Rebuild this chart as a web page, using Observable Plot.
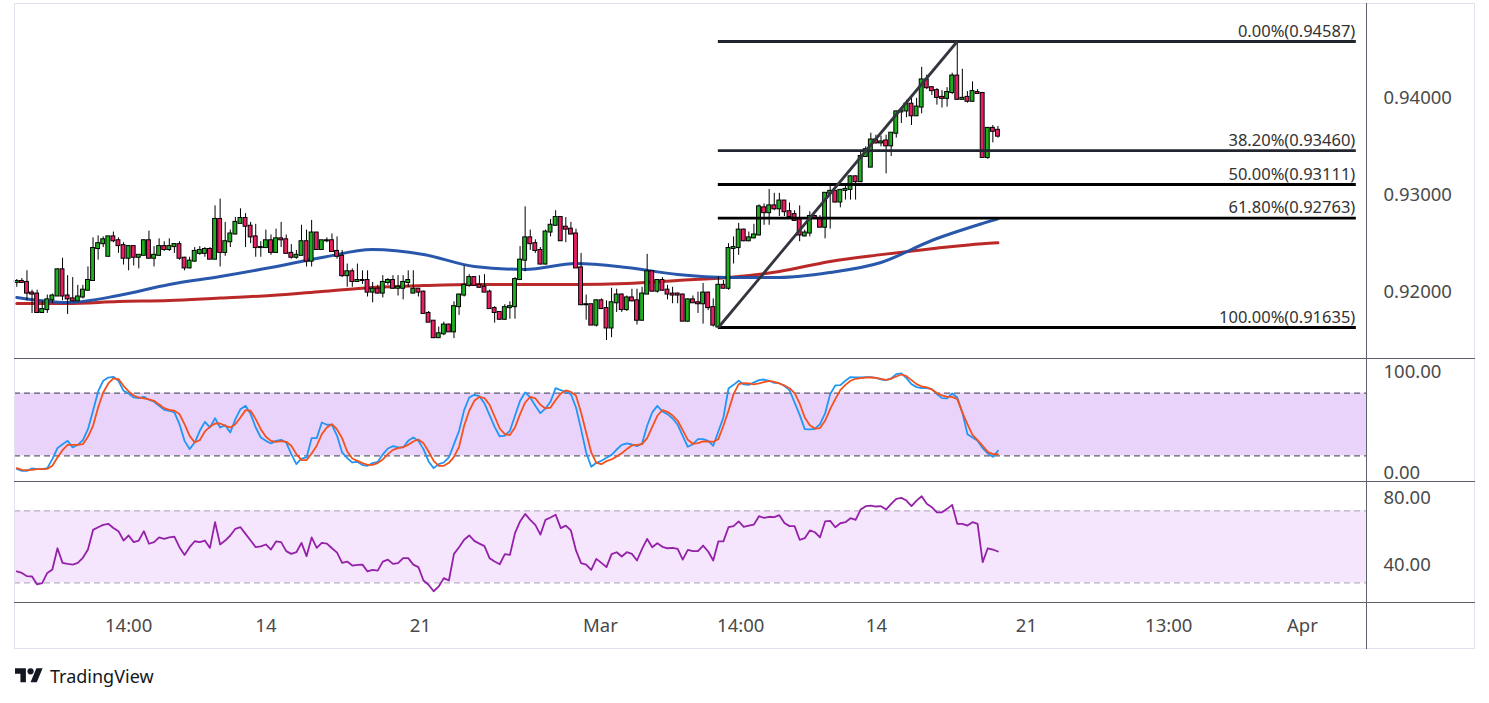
<!DOCTYPE html>
<html><head><meta charset="utf-8">
<script src="https://cdn.jsdelivr.net/npm/d3@7"></script>
<script src="https://cdn.jsdelivr.net/npm/@observablehq/plot@0.6"></script>
<style>
body{margin:0;background:#fff;font-family:"Noto Sans",sans-serif;}
#wrap{position:relative;width:1489px;height:703px;overflow:hidden;background:#fff;}
.pane{position:absolute;left:0;}
.frame{position:absolute;left:14px;top:3px;width:1461px;height:646px;border:1px solid #e0e3eb;box-sizing:border-box;pointer-events:none;}
.hsep{position:absolute;left:14px;width:1461px;height:1px;background:#5d606b;}
.vsep{position:absolute;left:1366px;top:3px;width:1px;height:646px;background:#5d606b;}
#logo{position:absolute;left:15px;top:665px;}
#brand{position:absolute;left:50px;top:664px;font-size:18px;color:#131722;font-family:"Noto Sans",sans-serif;}
</style></head>
<body>
<div id="wrap">
  <div class="pane" id="price" style="top:0"></div>
  <div class="pane" id="stoch" style="top:358px"></div>
  <div class="pane" id="rsi" style="top:481px"></div>
  <div class="pane" id="time" style="top:602px"></div>
  <div class="frame"></div>
  <div class="hsep" style="top:358px"></div>
  <div class="hsep" style="top:481px"></div>
  <div class="hsep" style="top:602px"></div>
  <div class="vsep"></div>
  <svg id="logo" width="28" height="22" viewBox="0 0 36 28"><path d="M14 22H7V11H0V4h14v18zM28 22h-8l7.5-18h8L28 22z" fill="#131722"/><circle cx="20" cy="8" r="4" fill="#131722"/></svg>
  <div id="brand">TradingView</div>
</div>
<script>
// ---- OHLC (4H candles) ----
const open = [
0.9210,0.9211,0.9210,0.9199,0.9198,0.9179,0.9182,0.9192,0.9196,0.9223,
0.9196,0.9193,0.9191,0.9195,0.9202,0.9212,0.9245,0.9250,0.9237,0.9257,
0.9253,0.9248,0.9235,0.9247,0.9236,0.9238,0.9253,0.9235,0.9238,0.9247,
0.9244,0.9247,0.9249,0.9235,0.9225,0.9232,0.9240,0.9240,0.9244,0.9234,
0.9275,0.9241,0.9252,0.9260,0.9271,0.9276,0.9268,0.9257,0.9246,0.9246,
0.9253,0.9241,0.9255,0.9254,0.9240,0.9236,0.9238,0.9252,0.9232,0.9261,
0.9244,0.9253,0.9253,0.9242,0.9237,0.9217,0.9221,0.9211,0.9212,0.9212,
0.9200,0.9203,0.9199,0.9210,0.9212,0.9204,0.9204,0.9210,0.9199,0.9203,
0.9200,0.9178,0.9170,0.9153,0.9157,0.9166,0.9159,0.9185,0.9197,0.9207,
0.9215,0.9207,0.9205,0.9200,0.9183,0.9179,0.9172,0.9184,0.9185,0.9213,
0.9233,0.9256,0.9250,0.9243,0.9229,0.9262,0.9269,0.9277,0.9267,0.9265,
0.9260,0.9225,0.9187,0.9187,0.9166,0.9191,0.9183,0.9163,0.9189,0.9197,
0.9182,0.9194,0.9191,0.9171,0.9198,0.9221,0.9201,0.9212,0.9202,0.9198,
0.9198,0.9197,0.9170,0.9192,0.9189,0.9188,0.9199,0.9184,0.9164,0.9207,
0.9204,0.9245,0.9246,0.9264,0.9253,0.9256,0.9259,0.9287,0.9282,0.9289,
0.9286,0.9294,0.9283,0.9280,0.9276,0.9258,0.9261,0.9278,0.9275,0.9267,
0.9302,0.9304,0.9293,0.9305,0.9306,0.9319,0.9314,0.9340,0.9329,0.9357,
0.9354,0.9356,0.9351,0.9364,0.9386,0.9387,0.9394,0.9382,0.9391,0.9419,
0.9411,0.9408,0.9401,0.9400,0.9406,0.9423,0.9399,0.9401,0.9397,0.9406,
0.9405,0.9339,0.9369,0.9367];
const high = [
0.9213,0.9214,0.9222,0.9202,0.9202,0.9191,0.9197,0.9198,0.9224,0.9235,
0.9217,0.9215,0.9207,0.9207,0.9226,0.9256,0.9258,0.9257,0.9257,0.9262,
0.9256,0.9251,0.9248,0.9247,0.9238,0.9254,0.9263,0.9247,0.9255,0.9252,
0.9255,0.9250,0.9252,0.9236,0.9236,0.9246,0.9247,0.9246,0.9246,0.9289,
0.9296,0.9272,0.9264,0.9277,0.9286,0.9281,0.9272,0.9270,0.9252,0.9264,
0.9259,0.9265,0.9272,0.9259,0.9249,0.9243,0.9269,0.9264,0.9274,0.9261,
0.9253,0.9256,0.9260,0.9257,0.9243,0.9229,0.9224,0.9229,0.9222,0.9222,
0.9210,0.9207,0.9217,0.9214,0.9217,0.9217,0.9217,0.9222,0.9222,0.9203,
0.9201,0.9180,0.9170,0.9164,0.9169,0.9167,0.9190,0.9198,0.9227,0.9218,
0.9215,0.9217,0.9218,0.9202,0.9185,0.9180,0.9187,0.9190,0.9215,0.9247,
0.9288,0.9264,0.9254,0.9246,0.9264,0.9275,0.9284,0.9277,0.9277,0.9272,
0.9265,0.9240,0.9197,0.9187,0.9192,0.9193,0.9191,0.9204,0.9203,0.9198,
0.9196,0.9203,0.9203,0.9205,0.9239,0.9222,0.9213,0.9215,0.9207,0.9205,
0.9199,0.9198,0.9193,0.9196,0.9200,0.9209,0.9200,0.9193,0.9216,0.9212,
0.9250,0.9257,0.9271,0.9265,0.9262,0.9270,0.9290,0.9291,0.9306,0.9302,
0.9302,0.9294,0.9292,0.9284,0.9289,0.9264,0.9283,0.9279,0.9279,0.9302,
0.9310,0.9304,0.9306,0.9310,0.9320,0.9320,0.9345,0.9350,0.9364,0.9362,
0.9361,0.9362,0.9364,0.9387,0.9389,0.9398,0.9403,0.9400,0.9432,0.9424,
0.9412,0.9410,0.9408,0.9411,0.9426,0.94587,0.9430,0.9407,0.9417,0.9409,
0.9406,0.9370,0.9372,0.9371];
const low = [
0.9205,0.9210,0.9191,0.9178,0.9178,0.9178,0.9178,0.9188,0.9196,0.9191,
0.9177,0.9190,0.9191,0.9193,0.9201,0.9211,0.9233,0.9246,0.9237,0.9251,
0.9240,0.9228,0.9222,0.9227,0.9224,0.9238,0.9234,0.9226,0.9237,0.9242,
0.9242,0.9240,0.9233,0.9222,0.9224,0.9231,0.9238,0.9236,0.9234,0.9234,
0.9226,0.9237,0.9246,0.9259,0.9271,0.9246,0.9250,0.9236,0.9236,0.9245,
0.9238,0.9240,0.9246,0.9240,0.9234,0.9234,0.9238,0.9226,0.9226,0.9243,
0.9243,0.9251,0.9241,0.9234,0.9215,0.9205,0.9205,0.9210,0.9208,0.9195,
0.9189,0.9198,0.9194,0.9207,0.9203,0.9196,0.9192,0.9205,0.9199,0.9195,
0.9177,0.9169,0.9152,0.9153,0.9155,0.9159,0.9152,0.9176,0.9195,0.9205,
0.9206,0.9204,0.9200,0.9183,0.9168,0.9171,0.9171,0.9172,0.9172,0.9212,
0.9221,0.9243,0.9240,0.9228,0.9228,0.9257,0.9269,0.9253,0.9251,0.9259,
0.9225,0.9186,0.9171,0.9166,0.9164,0.9182,0.9150,0.9153,0.9179,0.9179,
0.9180,0.9190,0.9166,0.9170,0.9198,0.9200,0.9199,0.9201,0.9192,0.9188,
0.9188,0.9170,0.9169,0.9189,0.9178,0.9167,0.9181,0.9164,0.91635,0.9204,
0.9202,0.9229,0.9238,0.9252,0.9252,0.9255,0.9258,0.9269,0.9269,0.9284,
0.9278,0.9278,0.9275,0.9273,0.9252,0.9257,0.9257,0.9276,0.9267,0.9255,
0.9265,0.9292,0.9287,0.9295,0.9295,0.9295,0.9313,0.9339,0.9329,0.9353,
0.9350,0.9322,0.9340,0.9359,0.9374,0.9380,0.9372,0.9382,0.9384,0.9409,
0.9403,0.9393,0.9390,0.9391,0.9404,0.9398,0.9399,0.9395,0.9396,0.9405,
0.9339,0.9337,0.9354,0.9359];
const close = [
0.9211,0.9210,0.9199,0.9198,0.9179,0.9182,0.9192,0.9196,0.9223,0.9196,
0.9193,0.9191,0.9195,0.9202,0.9212,0.9245,0.9250,0.9254,0.9257,0.9253,
0.9248,0.9235,0.9247,0.9236,0.9238,0.9253,0.9235,0.9238,0.9247,0.9244,
0.9247,0.9249,0.9235,0.9225,0.9232,0.9242,0.9243,0.9244,0.9234,0.9275,
0.9241,0.9252,0.9260,0.9272,0.9276,0.9268,0.9257,0.9246,0.9246,0.9253,
0.9241,0.9255,0.9254,0.9240,0.9236,0.9238,0.9252,0.9232,0.9261,0.9244,
0.9253,0.9253,0.9242,0.9237,0.9217,0.9221,0.9211,0.9212,0.9212,0.9200,
0.9203,0.9199,0.9210,0.9212,0.9204,0.9205,0.9210,0.9212,0.9203,0.9200,
0.9178,0.9169,0.9153,0.9157,0.9166,0.9159,0.9185,0.9197,0.9207,0.9215,
0.9207,0.9205,0.9200,0.9183,0.9179,0.9172,0.9184,0.9185,0.9213,0.9233,
0.9256,0.9250,0.9243,0.9229,0.9262,0.9269,0.9277,0.9253,0.9265,0.9260,
0.9225,0.9187,0.9187,0.9166,0.9191,0.9183,0.9163,0.9189,0.9197,0.9182,
0.9194,0.9191,0.9171,0.9198,0.9221,0.9201,0.9212,0.9202,0.9198,0.9197,
0.9197,0.9170,0.9192,0.9189,0.9188,0.9199,0.9184,0.9166,0.9207,0.9204,
0.9245,0.9246,0.9264,0.9253,0.9256,0.9259,0.9288,0.9282,0.9289,0.9286,
0.9294,0.9283,0.9278,0.9274,0.9259,0.9261,0.9278,0.9277,0.9267,0.9302,
0.9304,0.9293,0.9305,0.9306,0.9319,0.9314,0.9340,0.9347,0.9357,0.9354,
0.9355,0.9351,0.9364,0.9386,0.9387,0.9394,0.9382,0.9391,0.9419,0.9411,
0.9408,0.9401,0.9400,0.9406,0.9423,0.9399,0.9400,0.9397,0.9407,0.9405,
0.9339,0.9369,0.9366,0.9361];

// ---- moving averages (sampled at candle index) ----
const maIdx  = [0,10,20,30,40,50,60,70,80,90,100,110,120,130,140,150,160,170,180,190,193];
const maFast = [0.91945,0.91893,0.91965,0.92079,0.92161,0.92254,0.92357,0.92440,0.92389,0.92265,0.92234,0.92295,0.92254,0.92182,0.92151,0.92151,0.92203,0.92306,0.92533,0.92709,0.92757];
const maSlow = [0.91883,0.91883,0.91903,0.91914,0.91940,0.91965,0.92006,0.92048,0.92068,0.92079,0.92079,0.92079,0.92089,0.92120,0.92151,0.92213,0.92317,0.92387,0.92448,0.92500,0.92509];

// ---- Fibonacci retracement ----
const fibStart = 138, fibEnd = 185, fibRight = 263.5;
const fibRatios = [0, 0.382, 0.5, 0.618, 1];
const fibPrices = [0.94587, 0.93460, 0.93111, 0.92763, 0.91635];
const fibColors = ["#22252e", "#22252e", "#000000", "#000000", "#000000"];

// ---- Stochastic ----
const stochK = [
7.6,5.7,5.7,8.0,7.3,7.3,8.3,16.9,27.4,31.2,
34.4,28.1,30.6,35.1,45.6,63.2,81.7,91.9,95.0,95.7,
91.9,82.3,79.7,75.9,75.3,76.5,73.7,71.8,67.9,64.1,
63.2,61.6,50.4,34.4,26.5,32.8,44.0,52.6,47.2,56.1,
47.2,49.4,42.4,55.2,64.7,67.9,60.0,47.2,37.6,34.4,
31.9,34.4,35.4,32.8,21.7,12.1,17.5,18.5,37.0,37.0,
52.0,49.8,49.8,39.2,23.3,17.9,13.7,14.3,11.2,10.5,
13.1,14.3,21.4,27.1,29.3,28.1,28.1,34.4,37.6,34.4,
26.5,14.7,8.3,12.1,13.7,18.5,31.2,44.0,63.8,75.9,
78.5,77.2,70.2,59.0,47.8,38.6,39.5,44.0,58.4,72.7,
80.7,75.9,67.9,60.9,65.4,72.1,84.8,82.9,81.3,79.1,
66.3,45.6,23.3,9.6,13.4,15.3,18.2,21.0,26.1,30.6,
31.9,30.9,29.3,31.9,48.8,61.6,67.9,62.5,60.0,55.8,
49.8,39.2,28.7,31.2,36.0,36.0,34.4,29.7,43.4,56.8,
84.5,88.0,91.9,88.4,88.0,90.3,92.5,93.1,91.9,89.9,
89.6,86.8,82.9,71.1,59.3,45.6,45.3,45.9,50.4,60.6,
79.1,87.4,87.7,91.9,95.4,95.0,95.0,95.4,95.4,94.7,
93.1,92.5,94.1,98.2,98.9,94.4,88.7,85.8,84.8,84.8,
83.9,79.1,75.3,75.0,79.7,75.9,61.6,40.8,37.6,34.4,
27.4,22.3,19.1,24.9];
const stochD = [
8.3,6.7,6.4,6.7,7.3,7.3,7.6,10.5,18.5,25.5,
30.6,30.6,30.6,31.2,38.3,48.8,66.3,80.7,89.3,94.1,
93.5,87.1,81.7,77.8,75.9,75.0,74.0,72.7,69.2,65.7,
64.1,63.2,60.0,50.4,39.2,32.8,35.1,43.4,47.8,51.0,
51.0,48.8,47.2,50.4,56.8,63.8,63.2,55.2,45.6,38.3,
34.4,33.5,34.1,33.5,29.7,21.7,15.9,15.9,22.3,29.7,
40.8,47.2,50.4,45.3,37.0,24.2,17.5,15.3,13.1,11.5,
11.5,13.1,16.6,21.7,25.8,27.4,28.4,30.6,33.8,35.7,
32.2,24.2,15.3,10.5,10.5,13.4,19.1,28.7,48.8,63.2,
72.7,76.5,75.3,68.9,57.7,46.2,40.8,39.9,47.2,60.0,
71.1,76.5,75.0,68.9,65.4,66.3,73.4,79.7,82.6,81.3,
77.5,61.6,42.4,23.3,13.4,12.1,15.0,16.6,19.4,22.6,
26.5,30.0,30.6,31.2,37.0,47.8,58.4,63.8,62.2,58.7,
53.6,44.6,35.4,31.6,32.2,33.8,33.8,33.5,36.0,48.8,
63.2,79.1,88.7,89.6,89.3,88.4,89.3,90.6,91.9,90.9,
89.3,87.4,84.8,80.1,70.2,56.8,49.4,46.2,46.6,53.6,
64.7,74.3,82.9,88.0,91.9,93.8,94.4,95.0,95.0,94.7,
93.8,92.8,93.8,96.0,97.9,96.3,92.5,88.7,86.4,85.5,
83.6,80.1,77.8,76.5,76.5,74.3,61.6,50.4,40.2,35.1,
29.7,23.9,21.7,21.7];
const stochBand = [20, 80];
const stochTicks = [0, 100];

// ---- RSI ----
const rsi = [
36.3,35.5,33.7,33.5,29.1,29.8,35.5,37.4,49.2,41.1,
40.5,40.1,41.1,43.9,48.5,59.4,60.9,62.2,62.8,60.5,
58.7,53.5,56.3,52.6,53.5,58.7,51.7,52.6,55.3,54.4,
55.3,55.7,49.8,45.5,49.8,53.1,52.6,53.5,49.4,63.7,
51.3,53.5,56.3,60.0,60.9,57.2,53.5,49.8,50.2,51.3,
48.5,53.0,52.6,47.6,46.1,47.0,52.2,44.8,55.2,49.4,
52.2,51.8,49.2,46.8,41.1,41.8,39.6,40.0,40.1,36.3,
37.2,36.8,41.8,42.9,40.5,40.9,43.7,43.7,40.1,38.7,
31.3,28.9,25.3,28.0,32.6,31.3,46.1,49.8,53.9,56.3,
53.3,51.8,50.4,43.7,41.8,40.3,45.9,45.5,57.6,64.1,
68.3,65.0,62.2,56.8,65.0,66.3,67.8,60.4,61.8,59.1,
48.0,40.9,40.1,37.2,43.3,41.1,38.7,45.9,47.0,44.6,
47.0,46.1,42.4,48.9,54.4,49.8,52.0,50.0,49.2,49.4,
48.9,42.9,48.3,47.6,47.6,50.7,47.4,42.4,53.0,53.0,
60.9,61.5,64.1,61.1,61.8,62.4,67.0,66.1,66.7,66.5,
67.6,63.3,61.5,61.5,53.9,54.8,59.1,58.1,55.3,64.1,
64.4,60.9,63.1,63.7,65.9,65.0,70.7,72.6,72.9,72.4,
72.6,70.7,73.9,76.7,77.2,75.7,72.6,75.7,78.1,73.9,
72.0,69.1,69.2,71.1,73.3,62.8,62.8,61.8,63.7,62.8,
41.5,49.2,48.5,47.4];
const rsiBand = [30, 70];
const rsiTicks = [40, 80];

// ---- time axis ----
const timeTickIdx = [22.0, 49.0, 79.4, 114.8, 142.4, 169.1, 198.6, 226.6, 252.9];
const timeTickLabels = ["14:00", "14", "21", "Mar", "14:00", "14", "21", "13:00", "Apr"];
const priceTicks = [0.92, 0.93, 0.94];

// ---- layout ----
const W = 1489, ML = 14, MR = 123;
const xDomain = [-0.45, 265.5];
const idx = d3.range(open.length);
const base = {
  width: W, marginLeft: ML, marginRight: MR, marginBottom: 0,
  x: {domain: xDomain, axis: null},
  color: {type: "identity"},
  style: {background: "transparent", fontFamily: "Noto Sans", color: "#4a4a4a", overflow: "visible"}
};
const axisFont = 18.5;
const axisOpts = {anchor: "right", tickFormat: d => d.toFixed(2), tickSize: 0, tickPadding: 17, fontSize: axisFont, label: null};

const price = Plot.plot({
  ...base, height: 358, marginTop: 3,
  y: {domain: [0.91315, 0.94979], axis: null},
  marks: [
    Plot.line(maIdx, {x: d => d, y: (d, i) => maSlow[i], stroke: "#b71c1c", strokeWidth: 3, curve: "monotone-x", strokeOpacity: 0.95}),
    Plot.line(maIdx, {x: d => d, y: (d, i) => maFast[i], stroke: "#1c4ea6", strokeWidth: 3, curve: "monotone-x", strokeOpacity: 0.95}),
    Plot.ruleX(idx, {x: i => i, y1: i => low[i], y2: i => high[i], stroke: "#000", strokeWidth: 1}),
    Plot.rect(idx, {x1: i => i - 0.38, x2: i => i + 0.38, y1: i => open[i], y2: i => close[i],
      fill: i => close[i] >= open[i] ? "#1fae1f" : "#e91e63", stroke: "#000", strokeWidth: 1,
      insetTop: -0.5, insetBottom: -0.5}),
    Plot.ruleY(d3.range(fibPrices.length), {y: i => fibPrices[i], x1: () => fibStart, x2: () => fibRight, stroke: i => fibColors[i], strokeWidth: 2.8}),
    Plot.link([0], {x1: () => fibStart, y1: () => low[fibStart], x2: () => fibEnd, y2: () => high[fibEnd], stroke: "#33363f", strokeWidth: 2.8}),
    Plot.text(d3.range(fibPrices.length), {x: () => fibRight, y: i => fibPrices[i],
      text: i => `${(fibRatios[i] * 100).toFixed(2)}%(${fibPrices[i].toFixed(5)})`,
      textAnchor: "end", dy: -10, dx: -1, fontSize: 16.5, fill: "#333"}),
    Plot.axisY({...axisOpts, ticks: priceTicks, tickFormat: d => d.toFixed(5)})
  ]
});
document.getElementById("price").appendChild(price);

const stoch = Plot.plot({
  ...base, height: 123, marginTop: 0,
  y: {domain: [-4.5, 113.2], axis: null},
  marks: [
    Plot.rect([stochBand], {y1: d => d[0], y2: d => d[1], fill: "#e9d3fb"}),
    Plot.ruleY(stochBand, {stroke: "#5d5f6b", strokeWidth: 1.2, strokeDasharray: "6,4"}),
    Plot.line(idx, {x: i => i, y: i => stochK[i], stroke: "#2196f3", strokeWidth: 1.8}),
    Plot.line(idx, {x: i => i, y: i => stochD[i], stroke: "#f4511e", strokeWidth: 1.8}),
    Plot.axisY({...axisOpts, ticks: [stochTicks[1]]}),
    Plot.axisY({...axisOpts, ticks: [stochTicks[0]], dy: -4})
  ]
});
document.getElementById("stoch").appendChild(stoch);

const rsiPlot = Plot.plot({
  ...base, height: 121, marginTop: 0,
  y: {domain: [19.06, 86.3], axis: null},
  marks: [
    Plot.rect([rsiBand], {y1: d => d[0], y2: d => d[1], fill: "#f5e6fe"}),
    Plot.ruleY(rsiBand, {stroke: "#b9aec6", strokeWidth: 1.2, strokeDasharray: "6,4"}),
    Plot.line(idx, {x: i => i, y: i => rsi[i], stroke: "#9421a8", strokeWidth: 1.8}),
    Plot.axisY({...axisOpts, ticks: [rsiTicks[0]]}),
    Plot.axisY({...axisOpts, ticks: [rsiTicks[1]], dy: 5})
  ]
});
document.getElementById("rsi").appendChild(rsiPlot);

const timeAxis = Plot.plot({
  ...base, height: 47, marginTop: 0,
  y: {axis: null},
  marks: [
    Plot.text(timeTickIdx, {x: d => d, text: (d, i) => timeTickLabels[i], frameAnchor: "middle", fontSize: axisFont, fill: "#4a4a4a"})
  ]
});
document.getElementById("time").appendChild(timeAxis);
</script>
</body></html>
